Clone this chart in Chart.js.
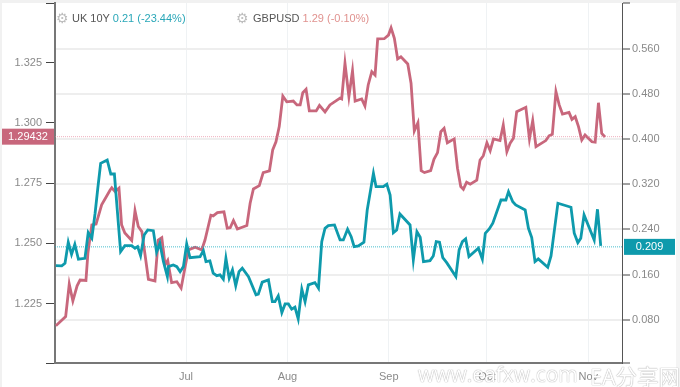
<!DOCTYPE html>
<html lang="en">
<head>
  <meta charset="UTF-8">
  <title>UK 10Y vs GBPUSD</title>
  <script src="https://cdn.jsdelivr.net/npm/chart.js"></script>
  <style>
    * { box-sizing: border-box; margin:0; padding:0; }
    html { background:#fff; }
    body { width:680px; height:387px; overflow:hidden; background:#fff; border-top:3px solid #f1f1f1; border-left:2px solid #f1f1f1; border-right:4px solid #f4f4f4; }
    canvas { position:absolute; left:0; top:0; }
    .legend { position:absolute; top:11px; font:11px 'Liberation Sans', sans-serif; color:#555; white-space:nowrap; line-height:15px; }
    .gear { position:absolute; top:9px; color:#bdbdbd; font:14px/18px 'DejaVu Sans', sans-serif; }
    .mark {
      position:absolute; top:360px; white-space:nowrap;
      font:21px 'Open Sans', 'Noto Sans CJK SC', sans-serif;
      color:#fff; text-shadow:0 0 1px #aaa, 0 0 1px #aaa;
    }
  </style>
</head>
<body>
<canvas id="grafica" width="680" height="387"></canvas>
<div class="gear" style="left:56px">⚙</div>
<div class="legend" style="left:72px">UK 10Y <span style="color:#2aa7b8">0.21 (-23.44%)</span></div>
<div class="gear" style="left:236px">⚙</div>
<div class="legend" style="left:253px">GBPUSD <span style="color:#e0928f">1.29 (-0.10%)</span></div>
<div class="mark" style="left:418px">www.eafxw.com</div>
<div class="mark" style="left:590px;font-size:21.5px">EA分享网</div>

<script>
// x values are days counted from 1 Jul
const monthDays = [0, 31, 62, 92, 123];
const monthLabels = ['Jul', 'Aug', 'Sep', 'Oct', 'Nov'];
const leftTicks = [1.225, 1.25, 1.275, 1.3, 1.325];
const rightTicks = [0.08, 0.16, 0.24, 0.32, 0.4, 0.48, 0.56];

const gbpDays = [-39.8,-36.8,-35.7,-34.6,-33.3,-32.4,-30.6,-30,-28.8,-27.5,-25.8,-23.2,-22.7,-21.7,-20.5,-19.7,-18.7,-16.6,-15.6,-14.6,-13.5,-11.5,-9.5,-8.5,-7.4,-6.4,-5.6,-4.4,-2.8,-1.5,0.7,2.8,4.8,5.8,7.6,8.3,9.6,11.6,12.6,13.5,14.5,15.7,18.6,19.6,20.6,22.4,23.6,25.5,26.5,27.5,28.5,29.6,30.8,32.8,33.9,34.9,35.7,36.7,37.7,39.8,40.8,42.5,44,47.1,47.6,48.6,49.8,50.9,51.7,53.7,54.7,55.7,56.8,57.8,58.6,60.6,61.9,62.7,63.7,64.7,65.7,67.8,68.8,69.8,70.9,71.9,72.9,74.8,75.8,76.9,77.9,78.9,79.9,82,83,84,84.8,85.8,86.9,88.9,89.9,90.9,92,93,94,96,97,98.1,99.1,100.1,101.1,103.9,105,106,107,110,111,112,113.1,114.1,115.1,117.1,118,119,120,121,122,124.1,125.1,126.1,127.1,128.1];
const gbpRates = [1.2158,1.2196,1.2331,1.2261,1.2324,1.2348,1.2346,1.2460,1.2577,1.2580,1.2660,1.2722,1.2731,1.2715,1.2729,1.2577,1.2543,1.2512,1.2636,1.2570,1.2549,1.2351,1.2344,1.2514,1.2524,1.2411,1.2429,1.2337,1.2341,1.2314,1.2473,1.2484,1.2473,1.2514,1.2617,1.2614,1.2628,1.2631,1.2563,1.2565,1.2595,1.2560,1.2574,1.2667,1.2726,1.2740,1.2794,1.2801,1.2888,1.2922,1.2985,1.3112,1.3088,1.3091,1.3075,1.3075,1.3126,1.3140,1.3050,1.3050,1.3073,1.3046,1.3075,1.3103,1.3100,1.3248,1.3109,1.3217,1.3091,1.3100,1.3071,1.3158,1.3213,1.3199,1.3349,1.3350,1.3365,1.3395,1.3352,1.3266,1.3275,1.3245,1.3165,1.2967,1.3001,1.2802,1.2794,1.2802,1.2849,1.2877,1.2964,1.2978,1.2918,1.2934,1.2812,1.2736,1.2725,1.2754,1.2746,1.2763,1.2846,1.2864,1.2918,1.2885,1.2934,1.2927,1.2992,1.2881,1.2916,1.2937,1.3047,1.3065,1.2934,1.3010,1.2902,1.2927,1.2947,1.2953,1.3130,1.3075,1.3037,1.3044,1.3015,1.3026,1.2985,1.2929,1.2950,1.2922,1.2920,1.3084,1.2957,1.2942];

const ukDays = [-39.8,-38,-37,-36,-35,-34,-32.9,-30.9,-29.9,-28.8,-27.8,-27,-26.1,-24.1,-23,-21.9,-20,-18.7,-16.6,-15.6,-14.8,-13.9,-12.8,-11.7,-10,-9,-8,-6.9,-5.7,-5.4,-3.9,-2.8,-1.8,-0.8,0.2,1.2,4.3,5.3,6.1,7.3,8.3,9.4,10.4,11.4,12.2,13.2,14.2,15.2,16.2,17.2,19.1,21.4,22.1,23.3,25.2,26.4,27.2,28.2,29.3,30.3,31.3,32.3,33.3,34.3,35.4,36.4,37.4,39.4,40.5,41.5,42.5,43.5,45.4,47.1,48.1,49.4,50.5,51.4,52.7,54.4,55.4,57.3,58.1,60.3,61.4,62.4,63.4,64.4,65.4,68.5,69.5,70.6,71.6,72.6,74.6,75.6,76.5,77.5,78.5,79.7,82.5,83.5,84.5,85.5,86.5,89.4,90.6,91.5,92.7,93.8,96.3,97.8,98.6,99.9,100.8,103.7,104.7,105.7,106.7,107.7,110.6,111.6,113.7,117.7,118.7,119.8,120.7,121.7,124.8,125.8,126.8];
const ukYields = [0.1757,0.1752,0.1800,0.2172,0.1959,0.2136,0.1871,0.1888,0.2342,0.2242,0.2685,0.3115,0.3570,0.3628,0.3380,0.3380,0.2005,0.2111,0.2111,0.2065,0.2094,0.1934,0.2301,0.2389,0.2377,0.1995,0.2154,0.1828,0.1563,0.1740,0.1770,0.1740,0.1651,0.1740,0.2141,0.1899,0.1917,0.2023,0.1828,0.1841,0.1623,0.1580,0.1593,0.1517,0.1888,0.1534,0.1681,0.1403,0.1651,0.1711,0.1563,0.1239,0.1251,0.1464,0.1504,0.1120,0.1120,0.1221,0.0926,0.1079,0.1079,0.0986,0.1021,0.0814,0.1340,0.1120,0.1416,0.1457,0.1357,0.2182,0.2419,0.2465,0.2478,0.2212,0.2212,0.2402,0.2271,0.2094,0.2106,0.2172,0.2743,0.3393,0.3156,0.3156,0.3198,0.3009,0.2342,0.2389,0.2672,0.2478,0.1858,0.2359,0.2260,0.1828,0.1846,0.1929,0.2182,0.2172,0.1899,0.1811,0.1563,0.2035,0.2182,0.2230,0.1917,0.2065,0.1871,0.2331,0.2407,0.2508,0.2920,0.2920,0.3067,0.2890,0.2832,0.2743,0.2419,0.2253,0.1828,0.1876,0.1729,0.1929,0.2862,0.2791,0.2331,0.2165,0.2242,0.2655,0.2212,0.2756,0.2106];

const gbpLast = 1.29432;
const ukLast = 0.209;
const colorGbp = '#c8677c';
const colorUk = '#0e9aac';

const xMin = -40.06, xMax = 133.3;
const leftMin = 1.20033, leftMax = 1.34983;
const rightMin = 0.0033, rightMax = 0.6409;

const toPoints = (xs, ys) => xs.map((x, i) => ({ x, y: ys[i] }));
const gray = '#8a8a8a';
const tickFont = { family: "'Liberation Sans', sans-serif", size: 11 };

// sin margen extra por las etiquetas, el area queda fija
const noPadding = s => { s.paddingTop = 0; s.paddingBottom = 0; s.paddingLeft = 0; s.paddingRight = 0; };

// caja con el ultimo valor a cada lado
const lastValueBoxes = {
  id: 'lastValueBoxes',
  afterDraw(chart) {
    const { ctx, scales } = chart;
    const box = (x, w, y, color, text) => {
      ctx.fillStyle = color;
      ctx.fillRect(x, y - 8, w, 16);
      ctx.fillStyle = '#fff';
      ctx.font = "11px 'Liberation Sans', sans-serif";
      ctx.textAlign = 'center';
      ctx.textBaseline = 'middle';
      ctx.fillText(text, x + w / 2, y + 0.5);
    };
    box(2, 52, scales.left.getPixelForValue(gbpLast), colorGbp, gbpLast.toFixed(5));
    box(624, 51, scales.right.getPixelForValue(ukLast), colorUk, ukLast.toFixed(3));
  }
};

new Chart(document.getElementById('grafica').getContext('2d'), {
  type: 'line',
  data: {
    datasets: [
      { data: toPoints([xMin, xMax], [gbpLast, gbpLast]), yAxisID: 'left', borderColor: 'rgba(226,120,145,0.6)', borderWidth: 1, borderDash: [1, 1], pointRadius: 0 },
      { data: toPoints([xMin, xMax], [ukLast, ukLast]), yAxisID: 'right', borderColor: 'rgba(14,170,190,0.75)', borderWidth: 1, borderDash: [1, 1], pointRadius: 0 },
      { label: 'UK 10Y', data: toPoints(ukDays, ukYields), yAxisID: 'right', borderColor: colorUk, borderWidth: 2.8, pointRadius: 0, tension: 0 },
      { label: 'GBPUSD', data: toPoints(gbpDays, gbpRates), yAxisID: 'left', borderColor: colorGbp, borderWidth: 2.8, pointRadius: 0, tension: 0 }
    ]
  },
  options: {
    responsive: false,
    animation: false,
    layout: { padding: { top: 3 }, autoPadding: false },
    plugins: { legend: { display: false }, tooltip: { enabled: false } },
    scales: {
      x: {
        type: 'linear', min: xMin, max: xMax,
        afterBuildTicks: s => { s.ticks = monthDays.map(value => ({ value })); },
        afterFit: s => { s.height = 24; noPadding(s); },
        ticks: {
          autoSkip: false, maxRotation: 0, padding: 7, color: gray, font: tickFont,
          callback: v => monthLabels[monthDays.indexOf(v)]
        },
        grid: { color: '#eff2f4', lineWidth: 1, tickLength: 0 },
        border: { color: '#777', width: 2 }
      },
      left: {
        type: 'linear', position: 'left', min: leftMin, max: leftMax,
        afterBuildTicks: s => { s.ticks = [leftMin, ...leftTicks, leftMax].map(value => ({ value })); },
        afterFit: s => { s.width = 55; noPadding(s); },
        ticks: {
          autoSkip: false, padding: 4, color: gray, font: tickFont,
          callback: v => leftTicks.includes(v) ? v.toFixed(3) : ''
        },
        grid: { drawOnChartArea: false, tickLength: 9, tickColor: '#444', lineWidth: 1 },
        border: { color: '#777', width: 2 }
      },
      right: {
        type: 'linear', position: 'right', min: rightMin, max: rightMax,
        afterBuildTicks: s => { s.ticks = [rightMin, ...rightTicks, rightMax].map(value => ({ value })); },
        afterFit: s => { s.width = 58; noPadding(s); },
        ticks: {
          autoSkip: false, padding: 2, color: gray, font: tickFont,
          callback: v => rightTicks.includes(v) ? v.toFixed(3) : ''
        },
        grid: {
          tickLength: 8, lineWidth: 2,
          color: c => rightTicks.includes(c.tick.value) ? '#eeeeee' : 'rgba(0,0,0,0)',
          tickColor: '#444', tickWidth: 1
        },
        border: { color: '#555', width: 1 }
      }
    }
  },
  plugins: [lastValueBoxes]
});
</script>
</body>
</html>
